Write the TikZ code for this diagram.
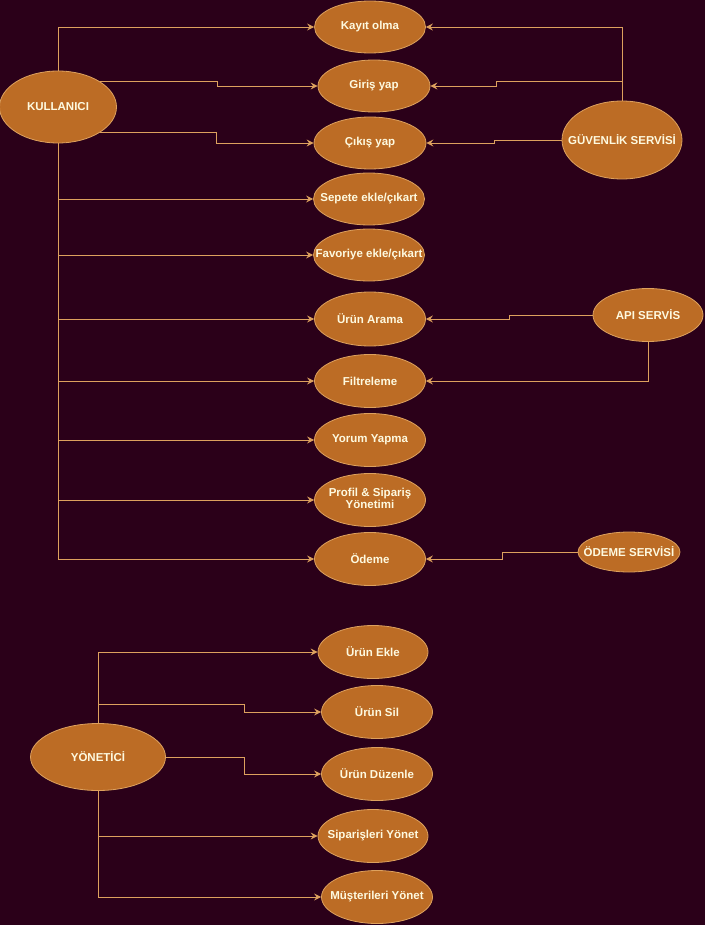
\documentclass[tikz,border=0pt]{standalone}
\usepackage{fontspec}
\setmainfont{Liberation Sans}
\usetikzlibrary{shapes.geometric,arrows.meta}
\definecolor{bg}{HTML}{2B0019}
\definecolor{ufill}{HTML}{BC6C25}
\definecolor{ustroke}{HTML}{DDA15E}
\definecolor{utext}{HTML}{FEFAE0}
\newcommand{\ucz}[1]{\makebox[0pt][c]{#1}}
\tikzset{
 uc/.style={ellipse, draw=ustroke, fill=ufill, text=utext, font=\fontsize{11.5}{13.5}\selectfont\bfseries, inner sep=0pt, line width=0.8pt},
 conn/.style={draw=ustroke, line width=0.9pt, -{Stealth[length=7pt,width=7pt,inset=2.5pt]}},
}
\begin{document}
\begin{tikzpicture}[x=1pt,y=-1pt]
\path[fill=bg] (0,0) rectangle (705,925);
\useasboundingbox (0,0) rectangle (705,925);
% KULLANICI use cases
\node[uc, minimum width=117, minimum height=72] (kul) at (58,107) {\ucz{KULLANICI}};
\node[uc, minimum width=111, minimum height=52] (kay) at (370,27) {\ucz{Kayıt olma}};
\node[uc, minimum width=112, minimum height=52] (gir) at (374,86) {\ucz{Giriş yap}};
\node[uc, minimum width=112, minimum height=52] (cik) at (370,143) {\ucz{Çıkış yap}};
\node[uc, minimum width=111, minimum height=52] (sep) at (369,199) {\ucz{Sepete ekle/çıkart}};
\node[uc, minimum width=111, minimum height=52] (fav) at (369,255) {\ucz{Favoriye ekle/çıkart}};
\node[uc, minimum width=111, minimum height=54] (ara) at (370,319) {\ucz{Ürün Arama}};
\node[uc, minimum width=111, minimum height=53] (fil) at (370,381) {\ucz{Filtreleme}};
\node[uc, minimum width=111, minimum height=53] (yor) at (370,440) {\ucz{Yorum Yapma}};
\node[uc, minimum width=111, minimum height=53] (pro) at (370,500) {\ucz{\begin{tabular}{@{}c@{}}Profil \& Sipariş\\[-2pt]Yönetimi\end{tabular}}};
\node[uc, minimum width=111, minimum height=53] (ode) at (370,559) {\ucz{Ödeme}};
% services
\node[uc, minimum width=120, minimum height=78] (guv) at (622,140) {\ucz{GÜVENLİK SERVİSİ}};
\node[uc, minimum width=110, minimum height=53] (api) at (648,315) {\ucz{API SERVİS}};
\node[uc, minimum width=102, minimum height=40] (odes) at (629,552) {\ucz{ÖDEME SERVİSİ}};
% YONETICI use cases
\node[uc, minimum width=135, minimum height=67] (yon) at (98,757) {\ucz{YÖNETİCİ}};
\node[uc, minimum width=110, minimum height=53] (ekle) at (373,652) {\ucz{Ürün Ekle}};
\node[uc, minimum width=111, minimum height=53] (sil) at (377,712) {\ucz{Ürün Sil}};
\node[uc, minimum width=111, minimum height=53] (duz) at (377,774) {\ucz{Ürün Düzenle}};
\node[uc, minimum width=110, minimum height=53] (sipy) at (373,836) {\ucz{Siparişleri Yönet}};
\node[uc, minimum width=111, minimum height=53] (mus) at (377,897) {\ucz{Müşterileri Yönet}};
% connectors from KULLANICI
\draw[conn] (kul.north) |- (kay.west);
\draw[conn] (kul.north east) -| (217,86) -- (gir.west);
\draw[conn] (kul.south east) -| (216,143) -- (cik.west);
\draw[conn] (kul.south) |- (sep.west);
\draw[conn] (kul.south) |- (fav.west);
\draw[conn] (kul.south) |- (ara.west);
\draw[conn] (kul.south) |- (fil.west);
\draw[conn] (kul.south) |- (yor.west);
\draw[conn] (kul.south) |- (pro.west);
\draw[conn] (kul.south) |- (ode.west);
% connectors from services
\draw[conn] (guv.north) |- (kay.east);
\draw[conn] (guv.north) -- (622,81) -| (496,86) -- (gir.east);
\draw[conn] (guv.west) -| (494,143) -- (cik.east);
\draw[conn] (api.west) -| (509,319) -- (ara.east);
\draw[conn] (api.south) |- (fil.east);
\draw[conn] (odes.west) -| (502,559) -- (ode.east);
% connectors from YONETICI
\draw[conn] (yon.north) |- (ekle.west);
\draw[conn] (yon.north) -- (98,704) -| (244,712) -- (sil.west);
\draw[conn] (yon.east) -| (244,774) -- (duz.west);
\draw[conn] (yon.south) |- (sipy.west);
\draw[conn] (yon.south) |- (mus.west);
\end{tikzpicture}
\end{document}
